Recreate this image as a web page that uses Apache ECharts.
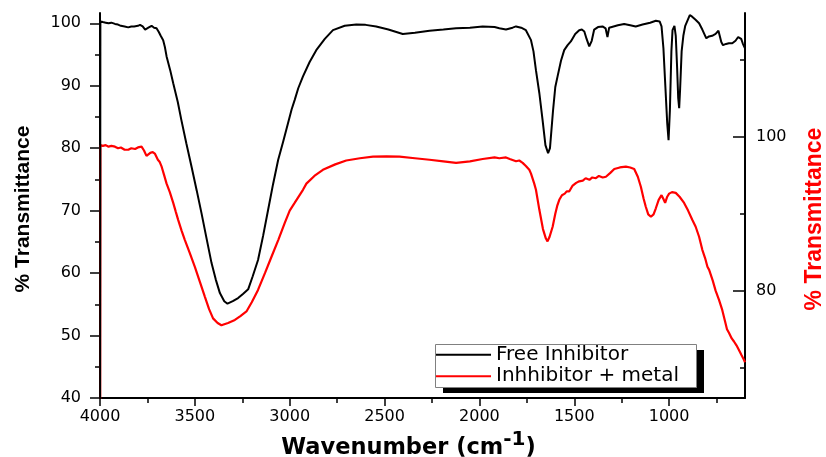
<!DOCTYPE html>
<html>
<head>
<meta charset="utf-8">
<title>FTIR spectra</title>
<script src="https://cdn.jsdelivr.net/npm/echarts@6/dist/echarts.min.js"></script>
<style>
  html, body { margin: 0; padding: 0; background: #fff; }
  #chart { width: 826px; height: 457px; }
</style>
</head>
<body>
<div id="chart"></div>
<script>
// FTIR spectrum of the free inhibitor (left axis, % transmittance)
const freeWavenumber = [4000, 3998, 3985, 3970, 3955, 3940, 3921, 3905, 3890, 3870, 3851, 3835, 3820, 3800, 3789, 3775, 3762, 3754, 3745, 3735, 3728, 3715, 3702, 3690, 3680, 3667, 3658, 3649, 3630, 3614, 3590, 3571, 3545, 3518, 3490, 3465, 3440, 3412, 3390, 3368, 3345, 3328, 3300, 3272, 3245, 3219, 3195, 3167, 3140, 3114, 3088, 3061, 3035, 3009, 2990, 2974, 2955, 2930, 2895, 2860, 2815, 2772, 2710, 2649, 2600, 2544, 2480, 2404, 2340, 2263, 2190, 2123, 2050, 1983, 1920, 1895, 1860, 1825, 1807, 1780, 1755, 1728, 1715, 1702, 1684, 1667, 1652, 1638, 1628, 1612, 1600, 1588, 1570, 1553, 1535, 1518, 1495, 1474, 1460, 1447, 1435, 1421, 1408, 1395, 1375, 1351, 1335, 1325, 1316, 1307, 1270, 1237, 1205, 1176, 1140, 1100, 1070, 1050, 1040, 1030, 1020, 1010, 1003, 996, 988, 982, 972, 965, 958, 952, 947, 942, 934, 925, 915, 905, 891, 880, 862, 842, 825, 804, 790, 773, 755, 740, 733, 725, 716, 700, 685, 667, 650, 636, 628, 620, 612, 605, 600];
const freeTransmittance = [20, 100.3, 100.2, 100.1, 100.0, 100.1, 99.9, 99.8, 99.6, 99.5, 99.35, 99.5, 99.5, 99.6, 99.75, 99.5, 99.0, 98.8, 99.3, 99.4, 99.6, 99.3, 99.2, 98.6, 98.0, 97.3, 96.2, 94.7, 92.5, 90.4, 87.4, 84.5, 80.8, 77.1, 73.2, 69.6, 65.8, 61.6, 59.0, 56.8, 55.5, 55.1, 55.5, 56.0, 56.7, 57.4, 59.5, 62.1, 66.0, 70.1, 74.2, 78.1, 81.0, 84.0, 86.2, 87.7, 89.6, 91.5, 93.8, 95.7, 97.5, 98.9, 99.6, 99.8, 99.75, 99.5, 99.0, 98.3, 98.5, 98.8, 99.0, 99.2, 99.3, 99.5, 99.4, 99.2, 99.0, 99.3, 99.5, 99.3, 98.9, 97.3, 95.5, 92.5, 88.8, 84.5, 80.5, 79.2, 80.0, 86.0, 89.8, 91.5, 94.0, 95.7, 96.5, 97.1, 98.3, 98.9, 99.0, 98.7, 97.5, 96.3, 97.2, 99.0, 99.4, 99.5, 99.2, 97.8, 99.3, 99.5, 99.7, 99.9, 99.7, 99.5, 99.8, 100.1, 100.4, 100.3, 99.5, 96.0, 90.0, 84.0, 81.3, 86.0, 95.5, 98.9, 99.6, 98.0, 93.0, 88.0, 86.4, 89.5, 95.5, 98.0, 99.6, 100.3, 101.3, 101.1, 100.6, 100.0, 99.0, 97.6, 97.9, 98.0, 98.3, 98.8, 98.5, 97.0, 96.5, 96.7, 96.8, 96.8, 97.2, 97.8, 98.1, 97.5, 96.8, 96.3, 96.0];

// FTIR spectrum of the inhibitor with metal (right axis, % transmittance)
const metalWavenumber = [4000, 3998, 3985, 3970, 3955, 3940, 3921, 3905, 3890, 3870, 3851, 3835, 3815, 3800, 3781, 3768, 3755, 3746, 3735, 3722, 3711, 3695, 3685, 3675, 3662, 3649, 3632, 3614, 3600, 3588, 3570, 3553, 3527, 3500, 3473, 3447, 3425, 3404, 3380, 3360, 3325, 3289, 3260, 3228, 3200, 3167, 3130, 3096, 3060, 3026, 3000, 2974, 2930, 2912, 2870, 2825, 2760, 2702, 2630, 2561, 2490, 2421, 2340, 2263, 2190, 2123, 2050, 1983, 1920, 1895, 1860, 1840, 1807, 1790, 1772, 1755, 1737, 1728, 1711, 1702, 1684, 1665, 1650, 1641, 1630, 1614, 1600, 1590, 1579, 1565, 1550, 1540, 1526, 1510, 1500, 1490, 1474, 1455, 1440, 1420, 1405, 1386, 1370, 1350, 1333, 1310, 1289, 1260, 1228, 1205, 1184, 1165, 1149, 1135, 1123, 1110, 1096, 1082, 1070, 1055, 1040, 1030, 1021, 1010, 1000, 985, 965, 945, 921, 900, 878, 860, 842, 825, 810, 798, 789, 770, 755, 737, 720, 705, 695, 684, 670, 658, 645, 632, 618, 605, 600];
const metalTransmittance = [40, 98.9, 98.8, 98.9, 98.7, 98.8, 98.7, 98.5, 98.6, 98.3, 98.3, 98.5, 98.4, 98.6, 98.7, 98.2, 97.5, 97.4, 97.9, 98.0, 97.8, 97.0, 96.7, 96.1, 95.0, 93.9, 92.8, 91.4, 90.2, 89.2, 87.8, 86.6, 84.9, 83.1, 81.1, 79.2, 77.6, 76.4, 75.8, 75.5, 75.8, 76.2, 76.7, 77.3, 78.5, 80.1, 82.3, 84.4, 86.6, 88.8, 90.4, 91.4, 93.1, 93.9, 94.9, 95.7, 96.4, 96.9, 97.2, 97.4, 97.45, 97.4, 97.2, 97.0, 96.8, 96.6, 96.8, 97.1, 97.3, 97.2, 97.3, 97.1, 96.8, 96.9, 96.6, 96.2, 95.7, 95.2, 93.9, 93.1, 90.5, 88.0, 86.8, 86.4, 87.0, 88.3, 90.0, 91.0, 91.8, 92.4, 92.6, 92.9, 92.9, 93.6, 93.4, 94.0, 94.2, 94.3, 94.6, 94.4, 94.7, 94.6, 94.9, 94.7, 94.8, 95.3, 95.8, 96.0, 96.1, 96.0, 95.8, 94.8, 93.5, 92.0, 90.9, 89.9, 89.6, 89.9, 90.7, 91.8, 92.4, 91.9, 91.4, 92.2, 92.6, 92.8, 92.7, 92.2, 91.4, 90.4, 89.2, 88.3, 87.0, 85.3, 84.2, 83.1, 82.7, 81.3, 80.0, 78.8, 77.5, 76.0, 75.0, 74.5, 73.8, 73.4, 72.9, 72.3, 71.6, 71.0, 70.7];

const seriesNames = ['Free Inhibitor', 'Inhhibitor + metal'];

// Axis ticks
const xMajorTicks = [4000, 3500, 3000, 2500, 2000, 1500, 1000];
const xMinorTicks = [3750, 3250, 2750, 2250, 1750, 1250, 750];
const leftMajorTicks = [40, 50, 60, 70, 80, 90, 100];
const leftMinorTicks = [45, 55, 65, 75, 85, 95];
const rightMajorTicks = [80, 100];
const rightMinorTicks = [70, 90, 110];

const pairs = (xs, ys) => xs.map((x, i) => [x, ys[i]]);
const plain = (v) => String(v);

const TICK_FONT = 'DejaVu Sans';
const axisLineStyle = { color: '#000', width: 2 };
const tickLineStyle = { color: '#000', width: 1.5 };

// Legend frame: white box with a solid drop shadow
const legendBox = { left: 435, top: 344, width: 261, height: 43, shadow: 7 };

const chart = echarts.init(document.getElementById('chart'), null, { renderer: 'canvas' });

chart.setOption({
  backgroundColor: '#fff',
  animation: false,
  grid: { left: 100, right: 81, top: 13, bottom: 59, outerBoundsMode: 'none', containLabel: false },
  graphic: [
    {
      type: 'rect',
      z: 50,
      left: legendBox.left + legendBox.shadow + 1,
      top: legendBox.top + legendBox.shadow - 1,
      shape: { width: legendBox.width, height: legendBox.height },
      style: { fill: '#000' }
    },
    {
      type: 'rect',
      z: 51,
      left: legendBox.left,
      top: legendBox.top,
      shape: { width: legendBox.width, height: legendBox.height },
      style: { fill: '#fff', stroke: '#808080', lineWidth: 1 }
    }
  ],
  legend: {
    data: seriesNames,
    orient: 'vertical',
    left: legendBox.left + 1,
    top: legendBox.top,
    z: 60,
    icon: 'rect',
    itemWidth: 55,
    itemHeight: 2,
    itemGap: 0,
    padding: 0,
    textStyle: { fontFamily: TICK_FONT, fontSize: 20, lineHeight: 21.5, color: '#000' }
  },
  xAxis: [
    {
      type: 'value',
      min: 600,
      max: 4000,
      inverse: true,
      position: 'bottom',
      splitLine: { show: false },
      axisLine: { lineStyle: axisLineStyle },
      axisTick: { customValues: xMajorTicks, length: 8, lineStyle: tickLineStyle },
      axisLabel: { customValues: xMajorTicks, formatter: plain, margin: 11, fontFamily: TICK_FONT, fontSize: 16, color: '#000' },
      name: '{b|Wavenumber (cm}{s|-1}{b|)}',
      nameLocation: 'middle',
      nameGap: 30,
      nameTextStyle: {
        padding: [0, 28, 0, 0],
        rich: {
          b: { fontFamily: TICK_FONT, fontWeight: 'bold', fontSize: 22.5, color: '#000', lineHeight: 30, verticalAlign: 'bottom' },
          s: { fontFamily: TICK_FONT, fontWeight: 'bold', fontSize: 20, color: '#000', lineHeight: 18, verticalAlign: 'top' }
        }
      }
    },
    {
      type: 'value',
      min: 600,
      max: 4000,
      inverse: true,
      position: 'bottom',
      splitLine: { show: false },
      axisLine: { show: false },
      axisTick: { customValues: xMinorTicks, length: 5, lineStyle: tickLineStyle },
      axisLabel: { show: false }
    }
  ],
  yAxis: [
    {
      type: 'value',
      position: 'left',
      min: 40,
      max: 101.65,
      splitLine: { show: false },
      axisLine: { show: true, lineStyle: axisLineStyle },
      axisTick: { customValues: leftMajorTicks, length: 10, lineStyle: tickLineStyle },
      axisLabel: { customValues: leftMajorTicks, formatter: plain, margin: 19, fontFamily: TICK_FONT, fontSize: 16, color: '#000' },
      name: '% Transmittance',
      nameLocation: 'middle',
      nameRotate: 90,
      nameGap: 66,
      nameTextStyle: { fontFamily: 'Liberation Sans', fontWeight: 'bold', fontSize: 21, color: '#000', padding: [0, 7, 0, 0] }
    },
    {
      type: 'value',
      position: 'right',
      min: 66.06,
      max: 116.06,
      splitLine: { show: false },
      axisLine: { show: true, lineStyle: axisLineStyle },
      axisTick: { customValues: rightMajorTicks, inside: true, length: 12, lineStyle: tickLineStyle },
      axisLabel: { customValues: rightMajorTicks, formatter: plain, margin: 11, fontFamily: TICK_FONT, fontSize: 16, color: '#000' },
      name: '% Transmittance',
      nameLocation: 'middle',
      nameRotate: 90,
      nameGap: 58,
      nameTextStyle: { fontFamily: 'Liberation Sans', fontWeight: 'bold', fontSize: 23, color: '#ff0000', padding: [0, 27, 0, 0] }
    },
    {
      type: 'value',
      position: 'left',
      min: 40,
      max: 101.65,
      splitLine: { show: false },
      axisLine: { show: false },
      axisTick: { show: true, customValues: leftMinorTicks, length: 5, lineStyle: tickLineStyle },
      axisLabel: { show: false }
    },
    {
      type: 'value',
      position: 'right',
      min: 66.06,
      max: 116.06,
      splitLine: { show: false },
      axisLine: { show: false },
      axisTick: { show: true, customValues: rightMinorTicks, inside: true, length: 5, lineStyle: tickLineStyle },
      axisLabel: { show: false }
    }
  ],
  series: [
    {
      name: seriesNames[0],
      type: 'line',
      xAxisIndex: 0,
      yAxisIndex: 0,
      data: pairs(freeWavenumber, freeTransmittance),
      showSymbol: false,
      symbol: 'none',
      clip: true,
      color: '#000',
      lineStyle: { color: '#000', width: 2 },
      z: 3
    },
    {
      name: seriesNames[1],
      type: 'line',
      xAxisIndex: 0,
      yAxisIndex: 1,
      data: pairs(metalWavenumber, metalTransmittance),
      showSymbol: false,
      symbol: 'none',
      clip: true,
      color: '#ff0000',
      lineStyle: { color: '#ff0000', width: 2.2 },
      z: 2
    }
  ]
});
</script>
</body>
</html>
